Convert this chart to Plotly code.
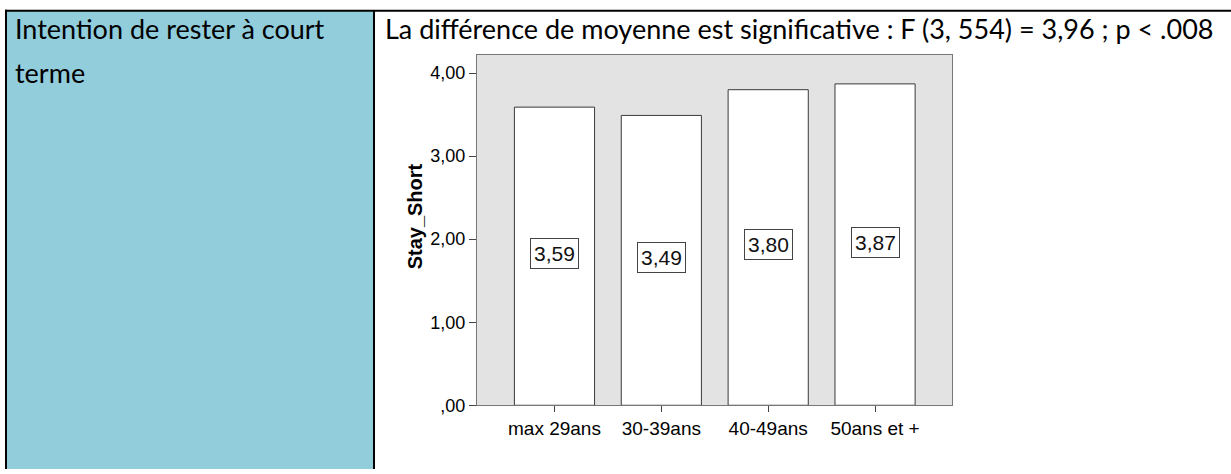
import plotly.graph_objects as go

categories = ["max 29ans", "30-39ans", "40-49ans", "50ans et +"]
means = [3.59, 3.49, 3.80, 3.87]
mean_labels = ["3,59", "3,49", "3,80", "3,87"]
y_ticks = [0, 1, 2, 3, 4]
y_tick_labels = [",00", "1,00", "2,00", "3,00", "4,00"]

W, H = 1231, 474

def px(x):
    return x / W

def py(y):
    return 1 - y / H

fig = go.Figure()
fig.add_trace(go.Bar(
    x=categories, y=means, width=0.75,
    marker=dict(color="white", line=dict(color="#3a3a3a", width=1)),
    hoverinfo="skip",
))

for c, v, lab in zip(categories, means, mean_labels):
    fig.add_annotation(x=c, y=v / 2 + 0.03, xref="x", yref="y", text=lab, showarrow=False,
                       font=dict(family="Liberation Sans, Arial", size=21, color="#111"),
                       bordercolor="#444", borderwidth=1, borderpad=3, bgcolor="white")

# table cells
shapes = [
    dict(type="rect", xref="paper", yref="paper", x0=px(7), x1=px(373), y0=py(H + 5), y1=py(11),
         fillcolor="#92CDDC", line=dict(width=0), layer="below"),
    dict(type="line", xref="paper", yref="paper", x0=px(6), x1=px(6), y0=py(H + 5), y1=py(10),
         line=dict(color="black", width=2)),
    dict(type="line", xref="paper", yref="paper", x0=px(374), x1=px(374), y0=py(H + 5), y1=py(11),
         line=dict(color="black", width=2)),
    dict(type="line", xref="paper", yref="paper", x0=px(5), x1=px(W + 5), y0=py(11), y1=py(11),
         line=dict(color="black", width=2)),
]

word_font = dict(family="Lato, Carlito, Calibri", size=27, color="black")
fig.add_annotation(x=px(13), y=py(29), xref="paper", yref="paper", xanchor="left", yanchor="middle",
                   text="Intention de rester à court", showarrow=False, font=word_font)
fig.add_annotation(x=px(13), y=py(74), xref="paper", yref="paper", xanchor="left", yanchor="middle",
                   text="terme", showarrow=False, font=word_font)
fig.add_annotation(x=px(383), y=py(29), xref="paper", yref="paper", xanchor="left", yanchor="middle",
                   text="La différence de moyenne est significative : F (3, 554) = 3,96 ; p < .008",
                   showarrow=False, font=word_font)

fig.add_annotation(x=px(415), y=py(221), xref="paper", yref="paper", textangle=-90,
                   text="<b>Stay_Short</b>", showarrow=False,
                   font=dict(family="Liberation Sans, Arial", size=20, color="black"))

fig.update_layout(
    width=W, height=H,
    margin=dict(l=0, r=0, t=0, b=0),
    paper_bgcolor="white",
    plot_bgcolor="#E3E3E3",
    showlegend=False,
    shapes=shapes,
    xaxis=dict(domain=[px(477), px(952)], type="category", range=[-0.725, 3.72],
               showline=True, mirror=True, linecolor="#777", linewidth=1,
               ticks="outside", ticklen=6, tickcolor="#444",
               tickfont=dict(family="Liberation Sans, Arial", size=19, color="black"),
               showgrid=False, fixedrange=True),
    yaxis=dict(domain=[py(414), py(56)], range=[0, 4.22],
               tickvals=y_ticks, ticktext=y_tick_labels,
               showline=True, mirror=True, linecolor="#777", linewidth=1,
               ticks="outside", ticklen=7, tickcolor="#444",
               tickfont=dict(family="Liberation Sans, Arial", size=18, color="black"),
               showgrid=False, zeroline=False, fixedrange=True),
)

post = (
    "document.documentElement.style.cssText='margin:0;padding:0;overflow:hidden;';"
    "document.body.style.cssText='margin:0;padding:0;overflow:hidden;';"
)
fig.write_html("out.html", config={"displayModeBar": False, "staticPlot": True}, post_script=post)
